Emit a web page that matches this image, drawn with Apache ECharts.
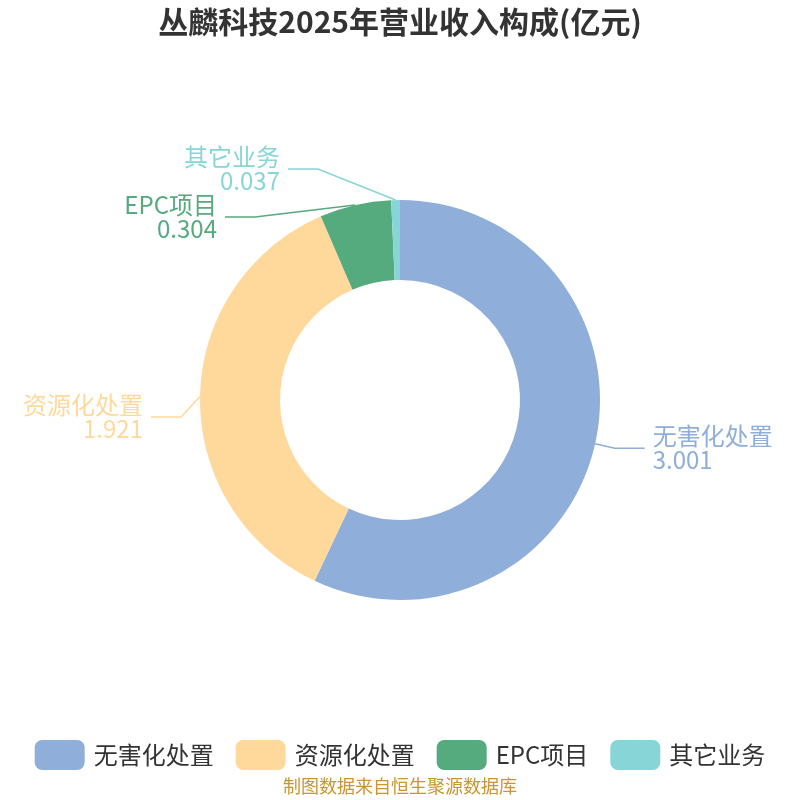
<!DOCTYPE html>
<html lang="zh">
<head>
<meta charset="UTF-8">
<title>丛麟科技2025年营业收入构成</title>
<script src="https://cdn.jsdelivr.net/npm/echarts@6/dist/echarts.min.js"></script>
<style>
  html, body { margin: 0; padding: 0; background: #fff; }
  #container { width: 800px; height: 800px; }
</style>
</head>
<body>
<div id="container"></div>
<script>
var names = ['无害化处置', '资源化处置', 'EPC项目', '其它业务'];
var values = [3.001, 1.921, 0.304, 0.037];
var colors = ['#8FAEDA', '#FFD99C', '#55AA7E', '#88D5D8'];

// 左侧标签的折点位置（避免重叠后的排布），右侧标签用默认位置
var labelElbows = [null, [181, 417], [255, 217], [318, 169]];
var lineLen2 = 30;
var labelGap = 8;

var myChart = echarts.init(document.getElementById('container'));

var pieData = [];
names.forEach(function (n, i) {
    pieData.push({
        name: n,
        value: values[i],
        itemStyle: { color: colors[i] },
        label: { color: colors[i] }
    });
});

var option = {
    backgroundColor: '#fff',
    title: [{
        text: '丛麟科技2025年营业收入构成(亿元)',
        left: 'center',
        top: 2,
        textStyle: { fontSize: 30, fontWeight: 'bold', color: '#333', fontFamily: 'Noto Sans CJK SC' }
    }, {
        text: '制图数据来自恒生聚源数据库',
        left: 'center',
        bottom: 0,
        textStyle: { fontSize: 18, fontWeight: 'normal', color: '#C8962C', fontFamily: 'Noto Sans CJK SC' }
    }],
    legend: {
        bottom: 25,
        left: 'center',
        itemWidth: 50,
        itemHeight: 30,
        itemGap: 22,
        textStyle: { fontSize: 24, color: '#333', fontFamily: 'Noto Sans CJK SC', padding: [0, 0, 0, 4] },
        data: names
    },
    series: [{
        type: 'pie',
        center: ['50%', '50%'],
        radius: ['30%', '50%'],
        startAngle: 90,
        clockwise: true,
        label: {
            show: true,
            formatter: '{b}\n{c}',
            fontSize: 24,
            lineHeight: 24,
            distanceToLabelLine: labelGap,
            fontFamily: 'Noto Sans CJK SC'
        },
        labelLine: {
            show: true,
            length: 20,
            length2: lineLen2,
            lineStyle: { width: 1.5 }
        },
        labelLayout: function (params) {
            var elbow = labelElbows[params.dataIndex];
            var pts = params.labelLinePoints;
            if (!elbow || !pts) return {};
            var end = [elbow[0] - lineLen2, elbow[1]];
            return {
                x: end[0] - labelGap,
                y: elbow[1],
                align: 'right',
                verticalAlign: 'middle',
                labelLinePoints: [pts[0], elbow, end]
            };
        },
        data: pieData
    }]
};

myChart.setOption(option, true);
</script>
</body>
</html>
